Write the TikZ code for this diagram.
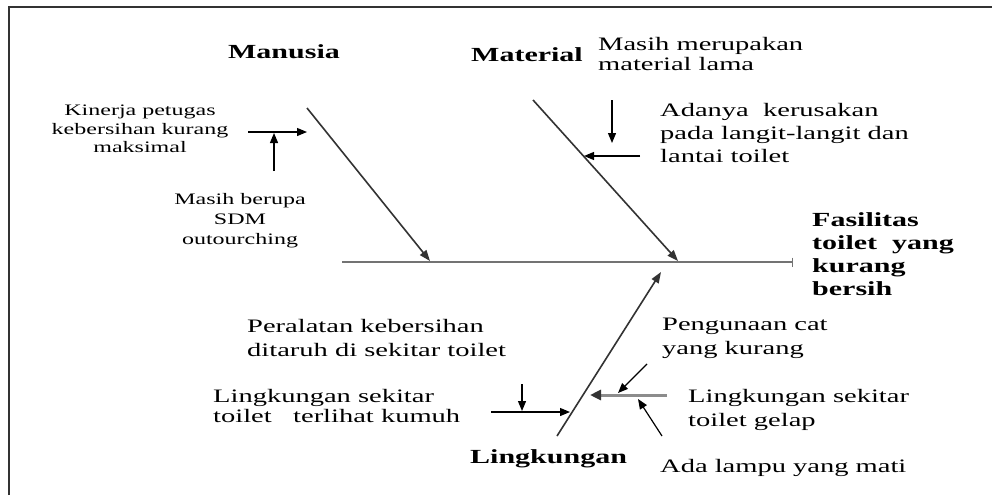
\documentclass[tikz,border=0pt]{standalone}
\usepackage{fontspec}
\setmainfont[FakeStretch=1.5]{Liberation Serif}
\usetikzlibrary{arrows.meta}
\begin{document}
\begin{tikzpicture}[x=1pt,y=-1pt,
  arr/.style={-{Triangle[length=10pt,width=8pt]}, line width=1.2pt, black},
  bone/.style={-{Triangle[length=11pt,width=8pt]}, line width=1.6pt, black!80},
  lbl/.style={font=\bfseries\fontsize{20}{23}\selectfont, inner sep=0pt},
  txt/.style={font=\fontsize{19}{23}\selectfont, inner sep=0pt, align=left, anchor=west},
  small/.style={font=\fontsize{16}{18.5}\selectfont, inner sep=0pt, align=center}]
\useasboundingbox (0,0) rectangle (992,495);
\fill[white] (0,0) rectangle (992,495);
% frame
\draw[line width=2pt, black!80] (9,495) -- (9,7) -- (992,7);
% coordinates
\coordinate (S0) at (342,262); \coordinate (S1) at (793,262);
\coordinate (M0) at (307,108); \coordinate (M1) at (430,261);
\coordinate (T0) at (533,100); \coordinate (T1) at (678,261);
\coordinate (L0) at (557,436); \coordinate (L1) at (661,272);
\coordinate (ma0) at (248,132); \coordinate (ma1) at (307,132);
\coordinate (mb0) at (274,171); \coordinate (mb1) at (274,133);
\coordinate (ta0) at (612,100); \coordinate (ta1) at (612,143);
\coordinate (tb0) at (640,156); \coordinate (tb1) at (584,156);
\coordinate (la0) at (491,412); \coordinate (la1) at (570,412);
\coordinate (lb0) at (522,384); \coordinate (lb1) at (522,411);
\coordinate (ra0) at (667,395); \coordinate (ra1) at (590,395);
\coordinate (rb0) at (647,364); \coordinate (rb1) at (618,393);
\coordinate (rc0) at (662,436); \coordinate (rc1) at (638,399);
% spine
\draw[line width=2.2pt, black!55, -{Bar[width=9pt,line width=1.2pt]}] (S0) -- (S1);
% bones
\draw[bone] (M0) -- (M1);
\draw[bone] (T0) -- (T1);
\draw[bone] (L0) -- (L1);
% small arrows
\draw[arr] (ma0) -- (ma1);
\draw[arr] (mb0) -- (mb1);
\draw[arr] (ta0) -- (ta1);
\draw[arr] (tb0) -- (tb1);
\draw[arr] (la0) -- (la1);
\draw[arr] (lb0) -- (lb1);
\draw[line width=3pt, black!45, -{Triangle[length=11pt,width=10pt,color=black!80]}] (ra0) -- (ra1);
\draw[arr] (rb0) -- (rb1);
\draw[arr] (rc0) -- (rc1);
% labels
\node[lbl] (manusia) at (284,52) {Manusia};
\node[lbl] (material) at (527,55) {Material};
\node[lbl, align=left, anchor=west] (effect) at (812,254) {Fasilitas\\toilet~~yang\\kurang\\bersih};
\node[lbl, anchor=west] (lingkungan) at (470,459) {Lingkungan};
% texts
\node[small] (kinerja) at (140,129) {Kinerja petugas\\kebersihan kurang\\maksimal};
\node[small, font=\fontsize{16}{20}\selectfont] (sdm) at (240,221) {Masih berupa\\SDM\\outourching};
\node[txt, font=\fontsize{19}{20}\selectfont] (lama) at (598,54) {Masih merupakan\\material lama};
\node[txt] (rusak) at (660,133) {Adanya~~kerusakan\\pada langit-langit dan\\lantai toilet};
\node[txt, font=\fontsize{19}{24}\selectfont] (alat) at (247,338) {Peralatan kebersihan\\ditaruh di sekitar toilet};
\node[txt, font=\fontsize{19}{20}\selectfont] (kumuh) at (213,406) {Lingkungan sekitar\\toilet~~~terlihat kumuh};
\node[txt, font=\fontsize{19}{24}\selectfont] (cat) at (662,338) {Pengunaan cat\\yang kurang};
\node[txt, font=\fontsize{19}{24}\selectfont] (gelap) at (688,410) {Lingkungan sekitar\\toilet gelap};
\node[txt] (lampu) at (660,468) {Ada lampu yang mati};
\end{tikzpicture}
\end{document}
